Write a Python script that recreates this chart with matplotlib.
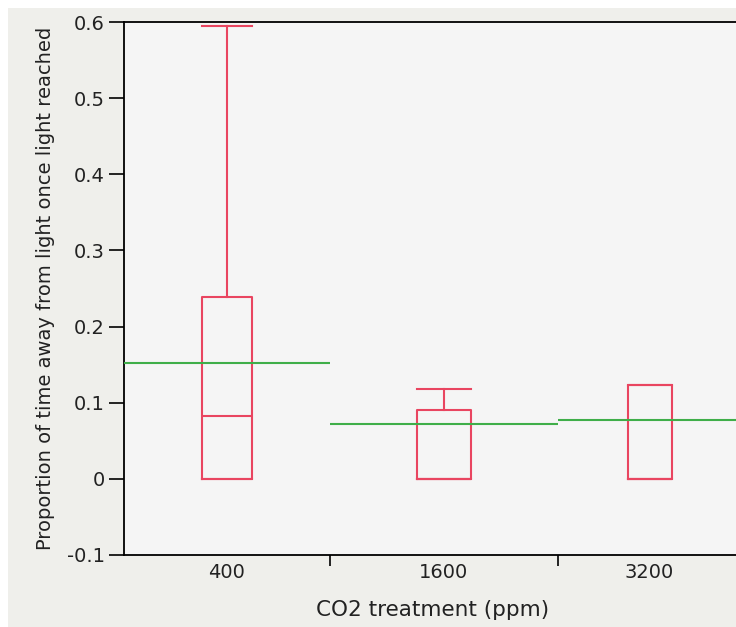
import matplotlib.pyplot as plt
import numpy as np
from matplotlib.patches import Rectangle

plt.rcParams['font.family'] = ['DejaVu Sans']
plt.rcParams['text.color'] = '#222222'
plt.rcParams['axes.labelcolor'] = '#222222'
plt.rcParams['xtick.labelcolor'] = '#222222'
plt.rcParams['ytick.labelcolor'] = '#222222'

# group labels and sizes (x widths are proportional to n, like JMP)
groups = ['400', '1600', '3200']
n = [9, 10, 8]

# box stats
q1 = [0.0, 0.0, 0.0]
med = [0.0826, 0.0, 0.0]
q3 = [0.2385, 0.0905, 0.1233]
whislo = [0.0, 0.0, 0.0]
whishi = [0.595, 0.1177, 0.1233]
means = [0.1518, 0.0717, 0.077]

red = '#e94560'
green = '#3fae49'

edges = np.concatenate([[0], np.cumsum(n)])
centers = (edges[:-1] + edges[1:]) / 2
widths = [0.24 * k for k in n]

fig = plt.figure(figsize=(7.36, 6.27), dpi=100, facecolor='white')
fig.patches.append(Rectangle((8 / 736, 0), 1, 619 / 627, transform=fig.transFigure,
                             facecolor='#efefeb', edgecolor='none', zorder=-10))

ax = fig.add_axes([124 / 736, 72 / 627, 617 / 736, 533 / 627])
ax.set_facecolor('#f5f5f5')

stats = []
for i in range(len(groups)):
    stats.append({'med': med[i], 'q1': q1[i], 'q3': q3[i],
                  'whislo': whislo[i], 'whishi': whishi[i], 'fliers': []})

line = dict(color=red, linewidth=1.5)
ax.bxp(stats, positions=centers, widths=widths, showfliers=False,
       boxprops=line, whiskerprops=line, capprops=line, medianprops=line,
       capwidths=widths, manage_ticks=False)

ax.hlines(means, edges[:-1], edges[1:], color=green, linewidth=1.5, zorder=3)

ax.set_xlim(edges[0], edges[-1])
ax.set_ylim(-0.1, 0.6)
ax.set_yticks(np.arange(-0.1, 0.61, 0.1))
ax.set_yticklabels(['-0.1', '0', '0.1', '0.2', '0.3', '0.4', '0.5', '0.6'])

ax.set_xticks(edges[1:-1])
ax.set_xticklabels([])
ax.set_xticks(centers, minor=True)
ax.set_xticklabels(groups, minor=True)
ax.tick_params(axis='x', which='minor', length=0, pad=6, labelsize=14)
ax.tick_params(axis='x', which='major', length=8, width=1.2, direction='out')
ax.tick_params(axis='y', length=11, width=1.2, labelsize=14, pad=3)

for s in ['left', 'bottom', 'top']:
    ax.spines[s].set_linewidth(1.3)
ax.spines['right'].set_visible(False)

ax.set_xlabel('CO2 treatment (ppm)', fontsize=15.5, labelpad=13)
ax.set_ylabel('Proportion of time away from light once light reached', fontsize=14, labelpad=8)

plt.savefig('out.png', dpi=100, facecolor=fig.get_facecolor())
